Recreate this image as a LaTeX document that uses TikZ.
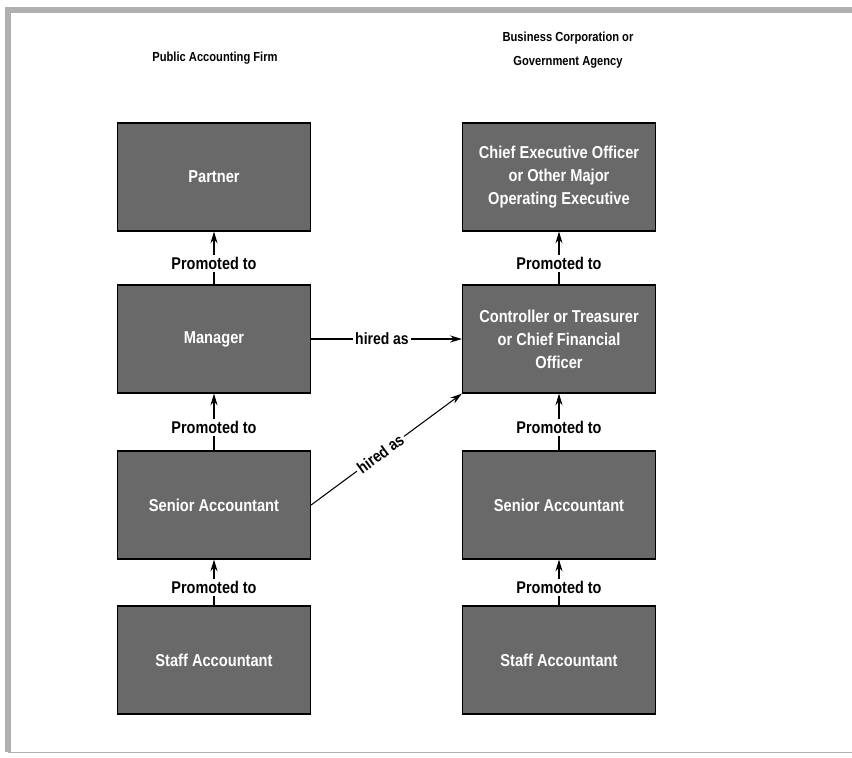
\documentclass[tikz,border=0pt]{standalone}
\usepackage{fontspec}
\setsansfont{Liberation Sans}
\newfontfamily\condfont[FakeStretch=0.85]{Liberation Sans}
\usetikzlibrary{arrows.meta}

\definecolor{boxgray}{RGB}{105,105,105}
\definecolor{framegray}{RGB}{175,175,175}

\tikzset{
  jobbox/.style={draw=black, line width=1pt, fill=boxgray, text=white,
    font=\condfont\bfseries\fontsize{14.7}{19.5}\selectfont,
    minimum width=5.79cm, minimum height=3.24cm, align=center, inner sep=0pt},
  heading/.style={font=\condfont\bfseries\fontsize{11.2}{20}\selectfont, align=center},
  promo/.style={line width=0.9pt, -{Stealth[length=10pt,width=6pt]}},
  promolabel/.style={fill=white, inner sep=2pt, font=\condfont\bfseries\fontsize{14.5}{16}\selectfont},
  hire/.style={line width=0.9pt, -{Stealth[length=10pt,width=6pt]}},
  hirelabel/.style={fill=white, inner sep=2pt, font=\condfont\bfseries\fontsize{14}{16}\selectfont}
}

\begin{document}
\begin{tikzpicture}[x=0.03cm, y=-0.03cm]
\useasboundingbox (0,0) rectangle (852,757);

% === Frame ===
\draw[framegray, line width=0.2cm] (8,752) -- (8,10) -- (852,10);
\draw[framegray, line width=0.6pt] (8,752) -- (852,752);

% === Headings ===
\node[heading] (hleft) at (215,58) {Public Accounting Firm};
\node[heading] (hright) at (568,50) {Business Corporation or\\Government Agency};

% === Public accounting firm ===
\node[jobbox] (lpartner) at (214,177) {Partner};
\node[jobbox] (lmanager) at (214,339) {Manager};
\node[jobbox] (lsenior) at (214,505) {Senior Accountant};
\node[jobbox] (lstaff) at (214,660) {Staff Accountant};

% === Business corporation or government agency ===
\node[jobbox] (rceo) at (559,177) {Chief Executive Officer\\or Other Major\\Operating Executive};
\node[jobbox] (rctrl) at (559,339) {Controller or Treasurer\\or Chief Financial\\Officer};
\node[jobbox] (rsenior) at (559,505) {Senior Accountant};
\node[jobbox] (rstaff) at (559,660) {Staff Accountant};

% === Promotions ===
\draw[promo] (lstaff) -- node[promolabel, pos=0.4] {Promoted to} (lsenior);
\draw[promo] (lsenior) -- node[promolabel, pos=0.4] {Promoted to} (lmanager);
\draw[promo] (lmanager) -- node[promolabel, pos=0.4] {Promoted to} (lpartner);
\draw[promo] (rstaff) -- node[promolabel, pos=0.4] {Promoted to} (rsenior);
\draw[promo] (rsenior) -- node[promolabel, pos=0.4] {Promoted to} (rctrl);
\draw[promo] (rctrl) -- node[promolabel, pos=0.4] {Promoted to} (rceo);

% === Hiring ===
\draw[hire] (lmanager.east) -- node[hirelabel, pos=0.47] {hired as} (rctrl.west);
\draw[hire] (lsenior.east) -- node[hirelabel, sloped, pos=0.46] {hired as} (rctrl.south west);

\end{tikzpicture}
\end{document}
